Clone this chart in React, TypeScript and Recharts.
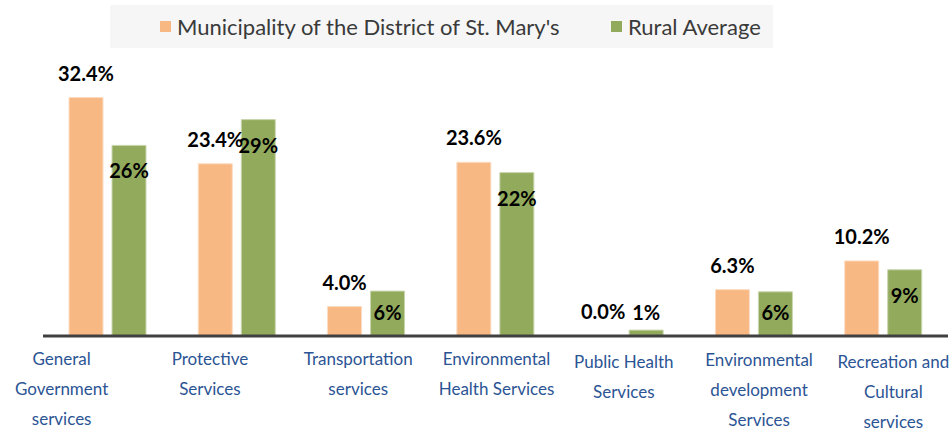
import React from "react";
import { BarChart, Bar, XAxis, YAxis, Legend, LabelList, Cell } from "recharts";

const categories = [
  "General Government services",
  "Protective Services",
  "Transportation services",
  "Environmental Health Services",
  "Public Health Services",
  "Environmental development Services",
  "Recreation and Cultural services",
];
const tickLines = [
  ["General", "Government", "services"],
  ["Protective", "Services"],
  ["Transportation", "services"],
  ["Environmental", "Health Services"],
  ["Public Health", "Services"],
  ["Environmental", "development", "Services"],
  ["Recreation and", "Cultural", "services"],
];
const stMarys = [32.4, 23.4, 4.0, 23.6, 0.0, 6.3, 10.2];
const ruralAverage = [25.9, 29.4, 6.1, 22.2, 0.8, 6.0, 9.0];
const seriesNames = ["Municipality of the District of St. Mary's", "Rural Average"];

const data = categories.map((c, i) => ({
  name: c,
  stm: stMarys[i],
  rural: ruralAverage[i],
}));

const ORANGE = "#F8B884";
const GREEN = "#92AA5C";
const ORANGE_EDGE = "#FCDCC2";
const GREEN_EDGE = "#C9D6AE";
const FONT = "Lato, 'Open Sans', sans-serif";

// small visual nudges of the category labels (as in the reference)
const tickDx = [-46, -27, -8, 1, -1, 5, 10];
const tickDy = [0, 0, 0, 0, 3, 1, 3];

const CustomTick = (props: any) => {
  const { x, y, payload } = props;
  const i = payload.index;
  const lines = tickLines[i] || [];
  return (
    <g>
      {lines.map((l, k) => (
        <text
          key={k}
          x={x + tickDx[i]}
          y={y + 21 + tickDy[i] + k * 30}
          textAnchor="middle"
          fill="#2B5494"
          fontSize={17}
          fontFamily={FONT}
        >
          {l}
        </text>
      ))}
    </g>
  );
};

const OrangeLabel = (props: any) => {
  const { x, y, width, value } = props;
  return (
    <text
      x={x + width / 2}
      y={y - 24 + 7}
      textAnchor="middle"
      fill="#000"
      fontSize={20}
      fontWeight="bold"
      fontFamily={FONT}
    >
      {Number(value).toFixed(1) + "%"}
    </text>
  );
};

const GreenLabel = (props: any) => {
  const { x, y, width, height, value } = props;
  const bottom = y + height;
  const cy = Math.min(y + 26, bottom - 23);
  return (
    <text
      x={x + width / 2}
      y={cy + 7}
      textAnchor="middle"
      fill="#000"
      fontSize={20}
      fontWeight="bold"
      fontFamily={FONT}
    >
      {Math.round(Number(value)) + "%"}
    </text>
  );
};

const renderLegend = () => (
  <div
    style={{
      position: "relative",
      width: 663,
      height: 43,
      background: "#F6F6F6",
      fontFamily: FONT,
      fontSize: 22,
      color: "#3A3A3A",
    }}
  >
    {[ORANGE, GREEN].map((c, i) => (
      <div
        key={i}
        style={{
          position: "absolute",
          left: i === 0 ? 50 : 501,
          top: 0,
          height: 43,
          display: "flex",
          alignItems: "center",
          whiteSpace: "nowrap",
        }}
      >
        <span
          style={{
            display: "inline-block",
            width: 11,
            height: 11,
            background: c,
            marginRight: 6,
          }}
        />
        <span>{seriesNames[i]}</span>
      </div>
    ))}
  </div>
);

export default function App() {
  return (
    <div style={{ position: "absolute", left: 0, top: 0, width: 952, height: 433, background: "#fff" }}>
      <BarChart
        width={952}
        height={433}
        data={data}
        margin={{ top: 17, right: 4, left: 43, bottom: 7 }}
        barSize={34}
        barGap={9}
      >
        <XAxis
          dataKey="name"
          height={90}
          axisLine={{ stroke: "#404040", strokeWidth: 3 }}
          tickLine={false}
          interval={0}
          tick={<CustomTick />}
        />
        <YAxis hide domain={[0, 37.5]} />
        <Legend
          verticalAlign="top"
          content={renderLegend}
          wrapperStyle={{ position: "absolute", top: 5, left: 110, width: 663, height: 43 }}
        />
        <Bar
          dataKey="stm"
          fill={ORANGE}
          minPointSize={(v: number) => (v === 0 ? 0.01 : 0)}
          isAnimationActive={false}
        >
          {stMarys.map((v, i) => (
            <Cell key={i} stroke={v === 0 ? "none" : ORANGE_EDGE} strokeWidth={1} />
          ))}
          <LabelList dataKey="stm" content={<OrangeLabel />} />
        </Bar>
        <Bar dataKey="rural" fill={GREEN} stroke={GREEN_EDGE} strokeWidth={1} isAnimationActive={false}>
          <LabelList dataKey="rural" content={<GreenLabel />} />
        </Bar>
      </BarChart>
    </div>
  );
}
